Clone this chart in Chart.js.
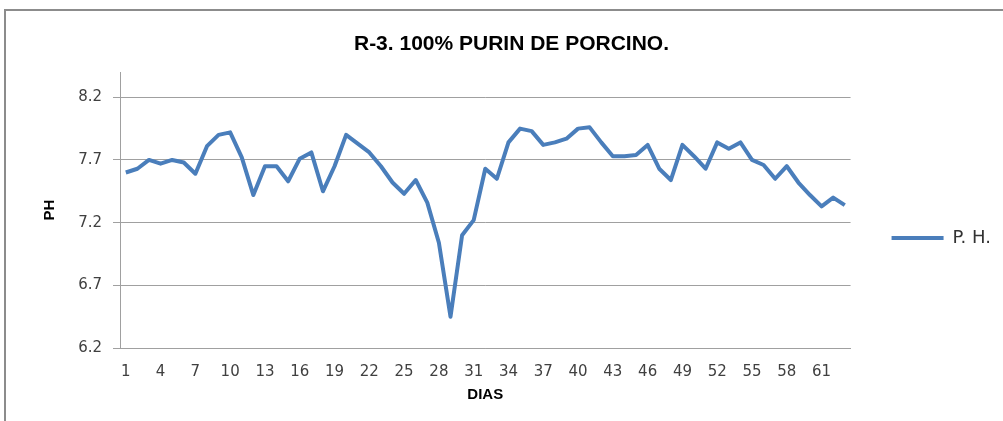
<!DOCTYPE html>
<html lang="es">
<head>
  <meta charset="UTF-8" />
  <title>R-3. 100% PURIN DE PORCINO.</title>
  <script src="https://cdn.jsdelivr.net/npm/chart.js"></script>
  <style>
    html, body {
      margin: 0;
      padding: 0;
      background: #fff;
      overflow: hidden;
    }
    .frame {
      position: absolute;
      left: 4px;
      top: 9px;
      width: 1100px;
      height: 600px;
      border-left: 2px solid #8c8c8c;
      border-top: 2px solid #8c8c8c;
    }
    canvas {
      position: absolute;
      left: 0;
      top: 0;
    }
  </style>
</head>
<body>
  <div class="frame"></div>
  <canvas id="phChart" width="1003" height="476"></canvas>

  <script>
    // dias 1..63
    const dias = [1, 2, 3, 4, 5, 6, 7, 8, 9, 10, 11, 12, 13, 14, 15, 16, 17, 18, 19, 20,
      21, 22, 23, 24, 25, 26, 27, 28, 29, 30, 31, 32, 33, 34, 35, 36, 37, 38, 39, 40,
      41, 42, 43, 44, 45, 46, 47, 48, 49, 50, 51, 52, 53, 54, 55, 56, 57, 58, 59, 60,
      61, 62, 63];

    // pH
    const ph = [7.60, 7.63, 7.70, 7.67, 7.70, 7.68, 7.59, 7.81, 7.90, 7.92,
      7.72, 7.42, 7.65, 7.65, 7.53, 7.71, 7.76, 7.45, 7.65, 7.90,
      7.83, 7.76, 7.65, 7.52, 7.43, 7.54, 7.36, 7.04, 6.45, 7.10,
      7.22, 7.63, 7.55, 7.84, 7.95, 7.93, 7.82, 7.84, 7.87, 7.95,
      7.96, 7.84, 7.73, 7.73, 7.74, 7.82, 7.63, 7.54, 7.82, 7.73,
      7.63, 7.84, 7.79, 7.84, 7.70, 7.66, 7.55, 7.65, 7.52, 7.42,
      7.33, 7.40, 7.34];

    const yTicks = [6.2, 6.7, 7.2, 7.7, 8.2];
    const labelEvery = 3;

    Chart.defaults.font.family = "'DejaVu Sans', sans-serif";

    new Chart(document.getElementById("phChart"), {
      type: "line",
      data: {
        labels: dias,
        datasets: [{
          label: "P. H.",
          data: ph,
          borderColor: "#4A7EBB",
          backgroundColor: "#4A7EBB",
          borderWidth: 4,
          pointRadius: 0,
          tension: 0,
          borderJoinStyle: "round"
        }]
      },
      options: {
        responsive: false,
        animation: false,
        layout: { padding: { left: 22, right: 2, top: 0, bottom: 0 } },
        plugins: {
          title: {
            display: true,
            text: "R-3. 100% PURIN DE PORCINO.",
            color: "#000",
            font: { family: "'Liberation Sans', Arial, sans-serif", size: 21, weight: "bold" },
            padding: { top: 32, bottom: 15 }
          },
          legend: {
            position: "right",
            labels: {
              usePointStyle: true,
              pointStyle: "line",
              pointStyleWidth: 52,
              padding: 41,
              color: "#333",
              font: { size: 18 }
            }
          },
          tooltip: { enabled: false }
        },
        scales: {
          x: {
            offset: true,
            afterFit: (scale) => { scale.height = 128; },
            grid: { display: false, drawTicks: false },
            border: { display: true, color: "#a0a0a0", width: 1 },
            ticks: {
              autoSkip: false,
              maxRotation: 0,
              padding: 15,
              color: "#404040",
              font: { size: 15 },
              callback: (v, i) => (i % labelEvery === 0 ? dias[i] : "")
            },
            title: {
              display: true,
              text: "DIAS",
              color: "#000",
              font: { family: "'Liberation Sans', Arial, sans-serif", size: 15, weight: "bold" },
              padding: { top: 7, bottom: 72 }
            }
          },
          y: {
            min: 6.2,
            max: 8.4,
            afterBuildTicks: (scale) => { scale.ticks = yTicks.map(v => ({ value: v })); },
            afterFit: (scale) => { scale.width = 98; },
            grid: { color: "#a0a0a0", tickLength: 7, drawTicks: true },
            border: { display: true, color: "#a0a0a0", width: 1 },
            ticks: {
              padding: 11,
              color: "#404040",
              font: { size: 15 },
              callback: (v) => Number(v).toFixed(1)
            },
            title: {
              display: true,
              text: "PH",
              color: "#000",
              font: { family: "'Liberation Sans', Arial, sans-serif", size: 15, weight: "bold" },
              padding: { top: 19, bottom: 0 }
            }
          }
        }
      }
    });
  </script>
</body>
</html>
